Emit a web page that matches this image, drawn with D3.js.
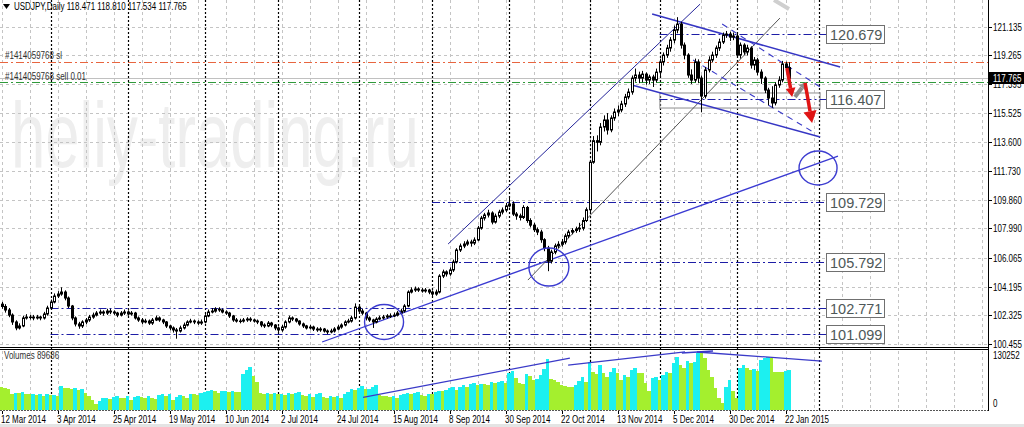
<!DOCTYPE html>
<html>
<head>
<meta charset="utf-8">
<script src="https://cdn.jsdelivr.net/npm/d3@7"></script>
<style>
  body { margin: 0; background: #fff; }
  svg { display: block; }
  .ui { font-family: 'Liberation Sans', Arial, sans-serif; font-size: 10px; fill: #000; }
</style>
</head>
<body>
<svg id="chart" width="1024" height="427"></svg>
<script>
// USDJPY daily, 12 Mar 2014 .. 23 Jan 2015
var firstOpen = 103.05;
var closes = [
  102.90, 102.67, 102.34, 101.89, 101.50, 101.63, 102.15, 102.21, 102.21, 102.15,
  102.21, 102.15, 102.41, 102.80, 103.19, 103.58, 103.71, 103.84, 103.45, 102.93,
  102.15, 101.76, 101.63, 101.89, 102.02, 102.21, 102.34, 102.47, 102.54, 102.47,
  102.60, 102.54, 102.47, 102.34, 102.47, 102.54, 102.41, 102.47, 102.15, 102.02,
  101.89, 101.95, 101.82, 102.02, 102.15, 102.02, 101.89, 101.63, 101.50, 101.37,
  101.30, 101.50, 101.69, 101.89, 101.95, 101.89, 101.82, 101.89, 102.28, 102.54,
  102.60, 102.73, 102.67, 102.54, 102.47, 102.28, 102.02, 101.95, 101.95, 102.02,
  102.08, 102.02, 101.95, 101.89, 101.69, 101.63, 101.82, 101.69, 101.50, 101.37,
  101.56, 101.89, 102.15, 102.08, 101.95, 101.76, 101.63, 101.50, 101.56, 101.43,
  101.37, 101.43, 101.30, 101.24, 101.30, 101.43, 101.56, 101.69, 101.89, 101.95,
  102.15, 102.86, 102.60, 102.47, 102.15, 102.02, 101.89, 102.08, 102.15, 102.21,
  102.28, 102.28, 102.34, 102.47, 102.60, 102.93, 103.84, 103.97, 104.04, 103.97,
  103.91, 103.97, 103.84, 103.71, 103.84, 104.88, 105.15, 105.02, 105.28, 105.80,
  106.58, 106.84, 106.97, 107.10, 107.03, 107.23, 108.01, 108.66, 108.86, 108.99,
  108.40, 108.79, 109.05, 109.18, 109.45, 109.58, 108.92, 108.80, 108.70, 109.35,
  108.50, 108.20, 107.90, 107.75, 107.25, 106.70, 105.85, 106.45, 106.85, 106.95,
  107.10, 107.50, 107.75, 107.85, 107.95, 108.00, 108.50, 109.20, 112.30, 113.70,
  113.60, 114.59, 115.05, 114.40, 115.18, 115.57, 115.70, 116.09, 116.55, 116.87,
  117.78, 117.98, 117.78, 118.04, 117.65, 117.85, 117.65, 118.17, 118.83, 119.28,
  119.74, 120.26, 120.91, 121.30, 119.93, 119.28, 117.98, 117.65, 118.83, 117.78,
  116.61, 118.31, 118.96, 119.28, 119.74, 120.13, 120.585, 120.65, 120.45, 120.52,
  119.28, 119.93, 119.48, 119.74, 118.63, 118.96, 118.17, 117.78, 117.00, 116.48,
  116.16, 117.33, 117.65, 118.70, 118.471, 117.765
];
var highs = [
  103.20, 103.05, 102.80, 102.45, 102.00, 101.80, 102.30, 102.40, 102.35, 102.35,
  102.35, 102.30, 102.55, 102.95, 103.35, 103.75, 103.90, 104.15, 103.95, 103.55,
  103.00, 102.25, 101.90, 102.00, 102.15, 102.35, 102.50, 102.60, 102.70, 102.65,
  102.75, 102.75, 102.65, 102.55, 102.60, 102.70, 102.65, 102.60, 102.55, 102.25,
  102.15, 102.10, 102.05, 102.15, 102.30, 102.25, 102.10, 101.95, 101.70, 101.60,
  101.50, 101.65, 101.85, 102.00, 102.10, 102.05, 102.00, 102.05, 102.40, 102.70,
  102.80, 102.85, 102.85, 102.75, 102.65, 102.55, 102.35, 102.15, 102.10, 102.15,
  102.20, 102.20, 102.10, 102.05, 101.95, 101.80, 101.95, 101.90, 101.75, 101.60,
  101.70, 102.00, 102.30, 102.25, 102.15, 102.00, 101.85, 101.70, 101.70, 101.65,
  101.55, 101.55, 101.50, 101.40, 101.45, 101.55, 101.70, 101.80, 102.00, 102.10,
  102.30, 103.10, 102.95, 102.75, 102.55, 102.25, 102.10, 102.20, 102.30, 102.35,
  102.40, 102.45, 102.50, 102.60, 102.75, 103.05, 103.95, 104.15, 104.20, 104.15,
  104.10, 104.10, 104.05, 103.95, 104.00, 105.00, 105.30, 105.25, 105.45, 105.95,
  106.70, 107.00, 107.15, 107.25, 107.25, 107.40, 108.15, 108.80, 109.00, 109.20,
  109.10, 108.95, 109.20, 109.35, 109.65, 110.05, 109.75, 109.05, 108.95, 109.50,
  109.45, 108.65, 108.35, 108.05, 107.90, 107.35, 106.85, 106.60, 107.00, 107.15,
  107.30, 107.65, 107.90, 108.00, 108.10, 108.35, 108.70, 109.35, 112.45, 114.00,
  114.05, 114.85, 115.35, 115.50, 115.35, 115.80, 116.00, 116.30, 116.75, 117.10,
  117.95, 118.40, 118.20, 118.25, 118.15, 118.00, 118.00, 118.40, 119.05, 119.45,
  119.95, 120.45, 121.20, 121.75, 121.45, 120.10, 119.40, 118.35, 119.05, 119.00,
  117.95, 118.50, 119.20, 119.50, 119.90, 120.35, 120.75, 120.85, 120.80, 120.75,
  120.70, 120.10, 120.05, 119.95, 119.85, 119.15, 119.10, 118.35, 117.90, 117.15,
  117.25, 117.50, 117.90, 118.90, 118.85, 118.810
];
var lows = [
  102.75, 102.50, 102.20, 101.70, 101.35, 101.40, 101.55, 102.05, 102.05, 102.00,
  102.05, 102.00, 102.05, 102.30, 102.70, 103.10, 103.45, 103.60, 103.30, 102.80,
  102.00, 101.60, 101.45, 101.50, 101.75, 101.90, 102.10, 102.25, 102.35, 102.30,
  102.35, 102.40, 102.35, 102.20, 102.25, 102.35, 102.30, 102.30, 102.05, 101.90,
  101.75, 101.80, 101.70, 101.70, 101.95, 101.90, 101.75, 101.50, 101.35, 101.20,
  100.80, 101.20, 101.40, 101.60, 101.80, 101.75, 101.70, 101.70, 101.80, 102.20,
  102.45, 102.50, 102.55, 102.45, 102.35, 102.15, 101.90, 101.85, 101.80, 101.85,
  101.90, 101.90, 101.85, 101.75, 101.55, 101.50, 101.55, 101.55, 101.35, 101.20,
  101.25, 101.45, 101.80, 101.95, 101.85, 101.65, 101.50, 101.40, 101.40, 101.30,
  101.25, 101.25, 101.20, 101.10, 101.15, 101.20, 101.35, 101.45, 101.60, 101.80,
  101.85, 102.05, 102.45, 102.35, 102.00, 101.90, 101.50, 101.80, 102.00, 102.05,
  102.10, 102.15, 102.20, 102.25, 102.35, 102.50, 102.85, 103.75, 103.85, 103.85,
  103.80, 103.80, 103.70, 103.55, 103.60, 103.75, 104.75, 104.85, 104.90, 105.15,
  105.70, 106.45, 106.70, 106.85, 106.80, 106.90, 107.15, 107.90, 108.50, 108.70,
  108.25, 108.30, 108.65, 108.90, 109.05, 109.35, 108.80, 108.55, 108.50, 108.60,
  108.35, 108.05, 107.75, 107.55, 107.05, 106.50, 105.20, 105.70, 106.30, 106.70,
  106.80, 106.95, 107.35, 107.60, 107.70, 107.75, 107.85, 108.40, 109.05, 112.20,
  113.00, 113.40, 114.30, 114.10, 114.25, 115.00, 115.30, 115.55, 115.90, 116.40,
  116.70, 117.55, 117.45, 117.50, 117.35, 117.40, 117.20, 117.50, 117.90, 118.60,
  119.10, 119.50, 120.05, 120.70, 119.70, 119.00, 117.80, 117.40, 117.50, 117.45,
  115.55, 116.45, 118.15, 118.80, 119.10, 119.55, 120.00, 120.40, 120.20, 120.25,
  119.10, 119.05, 119.30, 119.25, 118.40, 118.30, 117.95, 117.40, 116.80, 116.00,
  115.85, 116.00, 117.15, 117.50, 118.30, 117.534
];
// tick volumes, thousands
var volumes = [
  50, 48, 47, 36, 38, 37, 39, 36, 34, 36,
  33, 35, 31, 34, 32, 33, 31, 54, 49, 48,
  46, 49, 44, 47, 38, 30, 22, 12, 20, 25,
  27, 24, 28, 30, 27, 25, 30, 22, 29, 31,
  28, 26, 30, 27, 24, 33, 35, 30, 34, 22,
  28, 33, 30, 27, 36, 35, 33, 37, 40, 41,
  45, 43, 38, 41, 42, 40, 41, 40, 39, 80,
  90, 96, 75, 62, 38, 36, 37, 35, 38, 34,
  36, 32, 37, 35, 38, 39, 33, 31, 35, 29,
  35, 37, 28, 27, 31, 29, 30, 27, 35, 40,
  46, 44, 49, 53, 46, 47, 52, 56, 33, 31,
  30, 28, 30, 26, 33, 36, 38, 34, 37, 39,
  33, 31, 36, 34, 40, 43, 41, 45, 49, 50,
  44, 51, 55, 50, 57, 60, 55, 58, 57, 55,
  62, 59, 63, 65, 60, 82, 88, 72, 60, 58,
  80, 77, 66, 70, 78, 92, 114, 68, 66, 62,
  56, 54, 52, 51, 56, 65, 73, 62, 107, 86,
  80, 100, 82, 73, 84, 94, 82, 66, 78, 73,
  89, 94, 82, 82, 59, 43, 71, 73, 66, 78,
  84, 82, 105, 119, 100, 95, 110, 105, 107, 128,
  128, 116, 89, 73, 48, 27, 14, 50, 66, 43,
  25, 94, 100, 94, 89, 92, 88, 112, 116, 118,
  116, 85, 85, 84, 87, 89.686
];

var priceTicks = [121.135, 119.265, 117.395, 115.525, 113.600, 111.730, 109.860, 107.990, 106.065, 104.195, 102.325, 100.455];
var volumeMax = 130.252;
var dateLabels = ['12 Mar 2014', '3 Apr 2014', '25 Apr 2014', '19 May 2014', '10 Jun 2014', '2 Jul 2014', '24 Jul 2014',
  '15 Aug 2014', '8 Sep 2014', '30 Sep 2014', '22 Oct 2014', '13 Nov 2014', '5 Dec 2014', '30 Dec 2014', '22 Jan 2015'];
var dateLabelBars = [0, 16, 32, 48, 64, 80, 96, 112, 128, 144, 160, 176, 192, 208, 224];
var monthStartBars = [14, 36, 58, 79, 102, 123, 145, 168, 188, 210, 233.5];

// drawn objects: horizontal levels, trend lines [bar1, price1, bar2, price2]
var levelPrices = [120.679, 116.407, 109.729, 105.792, 102.771, 101.099];
var levelStartBars = [188, 188, 123, 123, 14, 14];
var supportLine = [91.6, 100.585, 239.0, 112.70];
var upChannelTop = [127.6, 106.97, 199.6, 122.60];
var upChannelBottom = [150.4, 104.62, 222.4, 121.69];
var downChannel = [[185.9, 121.95, 239.6, 118.50], [180.1, 117.33, 233.9, 113.94]];
var dashedLines = [[205.9, 121.30, 234.4, 117.13], [197.6, 118.96, 232.4, 114.20]];
var zoneBox = [188.1, 116.81, 233.9, 115.83];
var circles = [[109.3, 101.89], [156.4, 105.47], [233.3, 111.92]];
var redArrows = [[224.4, 118.44, 225.9, 116.55], [229.6, 117.46, 231.6, 114.85]];
var grayArrow = [226.7, 116.55, 229.9, 117.52];
var volumeLines = [[103.3, 27.4, 162.4, 116.5], [161.9, 100.5, 195.3, 130.3], [194.4, 128.0, 203.3, 132.5], [198.7, 130.3, 234.4, 109.7]];

var bid = 117.765, slPrice = 118.83, openPrice = 117.52;
var header = 'USDJPY,Daily  118.471 118.810 117.534 117.765';

var axisX = 988;
var svg = d3.select('#chart');

var x = d3.scaleLinear().domain([0, 225]).range([1.5, 789]);
var y = d3.scaleLinear().domain([100.455, 121.135]).range([344, 26.6]);
var yv = d3.scaleLinear().domain([0, volumeMax]).range([409.5, 352]);

var bars = closes.map(function (c, i) {
  return { i: i, o: i === 0 ? firstOpen : closes[i - 1], h: highs[i], l: lows[i], c: c, v: volumes[i] };
});

// Tahoma-like narrow text: squeeze the glyphs horizontally
function label(g, tx, ty, str, fill) {
  var t = g.append('text').attr('class', 'ui').attr('x', tx).attr('y', ty).text(str);
  if (fill) t.style('fill', fill);
  var len = t.node().getComputedTextLength();
  t.attr('textLength', len * 0.8).attr('lengthAdjust', 'spacingAndGlyphs');
  return t;
}

svg.append('rect').attr('width', 1024).attr('height', 427).attr('fill', '#fff');
svg.append('rect').attr('x', 0).attr('y', 424).attr('width', 1024).attr('height', 3).attr('fill', '#e4e4e4');

// watermark
svg.append('text')
  .attr('transform', 'translate(11,167) scale(0.67,1)')
  .style('font-family', "'Liberation Sans', Arial, sans-serif")
  .style('font-size', '92px')
  .attr('fill', '#eeeeee')
  .text('heliy-trading.ru');

// grid
var grid = svg.append('g').attr('stroke', '#c4c4c4').attr('stroke-dasharray', '3,3').attr('stroke-width', 1);
priceTicks.forEach(function (p) {
  var yy = Math.round(y(p)) + 0.5;
  grid.append('line').attr('x1', 0).attr('x2', axisX).attr('y1', yy).attr('y2', yy);
});
for (var k = 0; x(k) < axisX; k += 8) {
  var gx = Math.round(x(k)) + 0.5;
  grid.append('line').attr('x1', gx).attr('x2', gx).attr('y1', 0).attr('y2', 347);
  grid.append('line').attr('x1', gx).attr('x2', gx).attr('y1', 351).attr('y2', 410);
}

// period separators
var seps = svg.append('g').attr('stroke', '#000').attr('stroke-dasharray', '2,2').attr('stroke-width', 1.2);
monthStartBars.forEach(function (b) {
  var sx = Math.round(x(b)) + 0.5;
  seps.append('line').attr('x1', sx).attr('x2', sx).attr('y1', 0).attr('y2', 411);
});

// order lines and bid line
svg.append('line').attr('x1', 0).attr('x2', axisX).attr('y1', Math.round(y(bid)) + 0.5).attr('y2', Math.round(y(bid)) + 0.5)
  .attr('stroke', '#c0c0c0').attr('stroke-width', 1.2);
svg.append('line').attr('x1', 0).attr('x2', axisX).attr('y1', Math.round(y(slPrice)) + 0.5).attr('y2', Math.round(y(slPrice)) + 0.5)
  .attr('stroke', '#e8653f').attr('stroke-dasharray', '8,3,2,3');
svg.append('line').attr('x1', 0).attr('x2', axisX).attr('y1', Math.round(y(openPrice)) + 0.5).attr('y2', Math.round(y(openPrice)) + 0.5)
  .attr('stroke', '#2f9a3a').attr('stroke-dasharray', '8,3,2,3');

// gray zone
svg.append('rect')
  .attr('x', x(zoneBox[0])).attr('y', y(zoneBox[1]))
  .attr('width', x(zoneBox[2]) - x(zoneBox[0])).attr('height', y(zoneBox[3]) - y(zoneBox[1]))
  .attr('fill', 'none').attr('stroke', '#a8a8a8').attr('stroke-width', 1.3);

// level lines
var boxLeft = 826;
levelPrices.forEach(function (p, i) {
  var ly = Math.round(y(p)) + 0.5;
  svg.append('line').attr('x1', x(levelStartBars[i])).attr('x2', boxLeft).attr('y1', ly).attr('y2', ly)
    .attr('stroke', '#1d1da6').attr('stroke-width', 1.1).attr('stroke-dasharray', '8,3,2,3');
});

function seg(g, d) {
  return g.append('line').attr('x1', x(d[0])).attr('y1', y(d[1])).attr('x2', x(d[2])).attr('y2', y(d[3]));
}

// trend lines
var lines = svg.append('g').attr('fill', 'none');
seg(lines, supportLine).attr('stroke', '#3a3ad2').attr('stroke-width', 1.3);
seg(lines, upChannelTop).attr('stroke', '#25259a').attr('stroke-width', 1);
seg(lines, upChannelBottom).attr('stroke', '#555').attr('stroke-width', 1);
downChannel.forEach(function (d) { seg(lines, d).attr('stroke', '#3636c4').attr('stroke-width', 1.5); });
dashedLines.forEach(function (d) { seg(lines, d).attr('stroke', '#3a3ac8').attr('stroke-width', 1.1).attr('stroke-dasharray', '6,5'); });

// candles
var candles = svg.append('g');
candles.selectAll('line.wick').data(bars).enter().append('line')
  .attr('class', 'wick')
  .attr('x1', function (d) { return Math.round(x(d.i)) + 0.5; })
  .attr('x2', function (d) { return Math.round(x(d.i)) + 0.5; })
  .attr('y1', function (d) { return y(d.h); })
  .attr('y2', function (d) { return y(d.l); })
  .attr('stroke', '#000').attr('stroke-width', 1);
candles.selectAll('rect').data(bars).enter().append('rect')
  .attr('x', function (d) { return Math.round(x(d.i)) - 0.5; })
  .attr('width', 2)
  .attr('y', function (d) { return y(Math.max(d.o, d.c)); })
  .attr('height', function (d) { return Math.max(0.5, Math.abs(y(d.o) - y(d.c))); })
  .attr('fill', function (d) { return d.c >= d.o ? '#fff' : '#000'; })
  .attr('stroke', '#000').attr('stroke-width', 1);

// circles
circles.forEach(function (c, i) {
  var r = [[19.5, 17.5], [20, 19], [19, 17]][i];
  svg.append('ellipse').attr('cx', x(c[0])).attr('cy', y(c[1])).attr('rx', r[0]).attr('ry', r[1])
    .attr('fill', 'none').attr('stroke', '#3c3cd0').attr('stroke-width', 1.4);
});

// arrows
function arrow(d, color, w, head) {
  var x1 = x(d[0]), y1 = y(d[1]), x2 = x(d[2]), y2 = y(d[3]);
  var ang = Math.atan2(y2 - y1, x2 - x1);
  var bx = x2 - Math.cos(ang) * head, by = y2 - Math.sin(ang) * head;
  svg.append('line').attr('x1', x1).attr('y1', y1).attr('x2', bx).attr('y2', by)
    .attr('stroke', color).attr('stroke-width', w);
  var px = -Math.sin(ang) * head * 0.55, py = Math.cos(ang) * head * 0.55;
  svg.append('polygon')
    .attr('points', [[x2, y2], [bx + px, by + py], [bx - px, by - py]].map(function (p) { return p.join(','); }).join(' '))
    .attr('fill', color);
}
arrow(grayArrow, '#8c8c8c', 4, 7);
redArrows.forEach(function (d, i) { arrow(d, '#e01515', 3.5, i === 0 ? 9 : 12); });
svg.append('line').attr('x1', 774).attr('y1', 0).attr('x2', 789).attr('y2', 9)
  .attr('stroke', '#cfcfcf').attr('stroke-width', 4);

// volume panel
svg.append('line').attr('x1', 0).attr('x2', axisX).attr('y1', 347.5).attr('y2', 347.5).attr('stroke', '#000');
svg.append('line').attr('x1', 0).attr('x2', axisX).attr('y1', 349.5).attr('y2', 349.5).attr('stroke', '#000');
svg.append('line').attr('x1', 0).attr('x2', axisX).attr('y1', 410.5).attr('y2', 410.5).attr('stroke', '#555').attr('stroke-dasharray', '2,1');

svg.append('g').selectAll('rect').data(bars).enter().append('rect')
  .attr('x', function (d) { return x(d.i) - 1.75; })
  .attr('width', 3.5)
  .attr('y', function (d) { return yv(d.v); })
  .attr('height', function (d) { return yv(0) - yv(d.v); })
  .attr('fill', function (d, i) { return i > 0 && d.v > volumes[i - 1] ? '#1cf0f0' : '#a4ef2e'; })
  .attr('shape-rendering', 'crispEdges');

volumeLines.forEach(function (d) {
  svg.append('line').attr('x1', x(d[0])).attr('y1', yv(d[1])).attr('x2', x(d[2])).attr('y2', yv(d[3]))
    .attr('stroke', '#3a3ac8').attr('stroke-width', 1.3);
});

// right axis
svg.append('line').attr('x1', axisX + 0.5).attr('x2', axisX + 0.5).attr('y1', 0).attr('y2', 411).attr('stroke', '#000');
var axis = svg.append('g');
priceTicks.forEach(function (p) {
  var ty = Math.round(y(p)) + 0.5;
  axis.append('line').attr('x1', axisX).attr('x2', axisX + 4).attr('y1', ty).attr('y2', ty).attr('stroke', '#000');
  label(axis, 993, ty + 3.5, p.toFixed(3));
});
axis.append('rect').attr('x', 989).attr('y', Math.round(y(bid)) - 6).attr('width', 35).attr('height', 12).attr('fill', '#000');
label(axis, 993, Math.round(y(bid)) + 4, bid.toFixed(3), '#fff');
label(axis, 993, 359, String(Math.round(volumeMax * 1000)));
label(axis, 993, 407, '0');

// date axis
var dates = svg.append('g');
dateLabels.forEach(function (t, i) {
  var dx = Math.round(x(dateLabelBars[i]));
  dates.append('line').attr('x1', dx + 0.5).attr('x2', dx + 0.5).attr('y1', 411).attr('y2', 414).attr('stroke', '#000');
  label(dates, dx - 1, 423, t);
});

// header and order labels
svg.append('polygon').attr('points', '3,4 10,4 6.5,9').attr('fill', '#000');
label(svg, 14, 10, header);
label(svg, 5, 59, '#1414059768 sl', '#333');
label(svg, 5, 80, '#1414059768 sell 0.01', '#333');
label(svg, 4, 359, 'Volumes ' + Math.round(volumes[volumes.length - 1] * 1000), '#333');

// level price boxes
levelPrices.forEach(function (p) {
  var cy = Math.round(y(p));
  svg.append('rect').attr('x', boxLeft + 0.5).attr('y', cy - 8.5).attr('width', 58).attr('height', 18)
    .attr('fill', '#fff').attr('stroke', '#707070');
  svg.append('text').attr('x', boxLeft + 4).attr('y', cy + 5.5)
    .style('font-family', "'Liberation Sans', Arial, sans-serif").style('font-size', '14.5px')
    .attr('fill', '#4e5858').text(p.toFixed(3));
});
</script>
</body>
</html>
